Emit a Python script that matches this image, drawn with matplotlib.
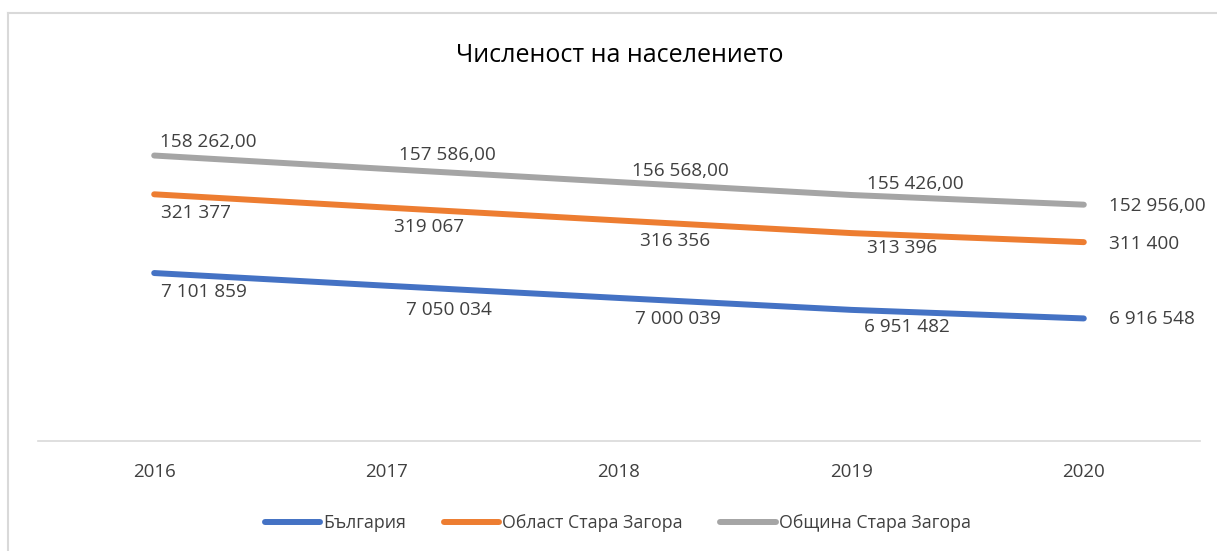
import numpy as np
import matplotlib
matplotlib.use("Agg")
import matplotlib.pyplot as plt
from matplotlib.lines import Line2D

plt.rcParams['font.family'] = ['Open Sans', 'DejaVu Sans']

years = ["2016", "2017", "2018", "2019", "2020"]
series_names = ["България", "Област Стара Загора", "Община Стара Загора"]
bulgaria = [7101859, 7050034, 7000039, 6951482, 6916548]
oblast = [321377, 319067, 316356, 313396, 311400]
obshtina = [158262.00, 157586.00, 156568.00, 155426.00, 152956.00]
title = "Численост на населението"

colors = ["#4472C4", "#ED7D31", "#A5A5A5"]
# label offsets in pixels (dx right, dy down) per series, per point
offsets = [
    [(7, 19), (19, 24), (16, 21), (13, 17), (25, 1)],
    [(7, 19), (7, 19), (21, 21), (16, 15), (25, 2)],
    [(6, -14), (12, -14), (13, -11), (16, -11), (25, 1)],
]

def fmt_int(v):
    return f"{int(round(v)):,}".replace(",", " ")

def fmt_dec(v):
    return f"{v:,.2f}".replace(",", " ").replace(".", ",")

W, H = 1217, 551
fig = plt.figure(figsize=(W / 100, H / 100), dpi=100)
ax = fig.add_axes([38 / W, (H - 441) / H, (1200 - 38) / W, (441 - 49) / H])

data = np.array([bulgaria, oblast, obshtina], dtype=float)
stacked = np.cumsum(data, axis=0)
x = np.arange(len(years))
formatters = [fmt_int, fmt_int, fmt_dec]
txt_color = "#404040"
fs = 13.7

handles = []
for i in range(3):
    ln, = ax.plot(x, stacked[i], color=colors[i], lw=4.3, solid_capstyle="round",
                  label=series_names[i], zorder=3)
    handles.append(ln)
    for j in range(len(x)):
        dx, dy = offsets[i][j]
        ax.annotate(formatters[i](data[i][j]), (x[j], stacked[i][j]),
                    xytext=(dx, -dy), textcoords="offset pixels",
                    ha="left", va="center", fontsize=fs, color=txt_color)

ax.set_xlim(-0.5, len(years) - 0.5)
ax.set_ylim(6.4163e6, 8.0163e6)
ax.set_xticks(x)
ax.set_xticklabels(years, fontsize=13.5, color=txt_color)
ax.set_yticks([])
ax.tick_params(axis="x", length=0, pad=16)
for s in ["top", "right", "left"]:
    ax.spines[s].set_visible(False)
ax.spines["bottom"].set_color("#d9d9d9")
ax.spines["bottom"].set_linewidth(1.2)
ax.patch.set_alpha(0)

fig.text(620 / W, (H - 55) / H, title, ha="center", va="center",
         fontsize=18, color="#000000")

leg = fig.legend(handles=handles, loc="center", bbox_to_anchor=(618 / W, 28 / H),
                 ncol=3, frameon=False, fontsize=12.8, handlelength=3.1,
                 handletextpad=0.2, columnspacing=2.1)
for t in leg.get_texts():
    t.set_color(txt_color)

# chart area border (top and left visible)
fig.add_artist(Line2D([8 / W, 1.0], [(H - 13) / H, (H - 13) / H],
                      transform=fig.transFigure, color="#d9d9d9", lw=1.5))
fig.add_artist(Line2D([8 / W, 8 / W], [(H - 13) / H, 0.0],
                      transform=fig.transFigure, color="#d9d9d9", lw=1.5))

fig.savefig("out.png", dpi=100, facecolor="white")
